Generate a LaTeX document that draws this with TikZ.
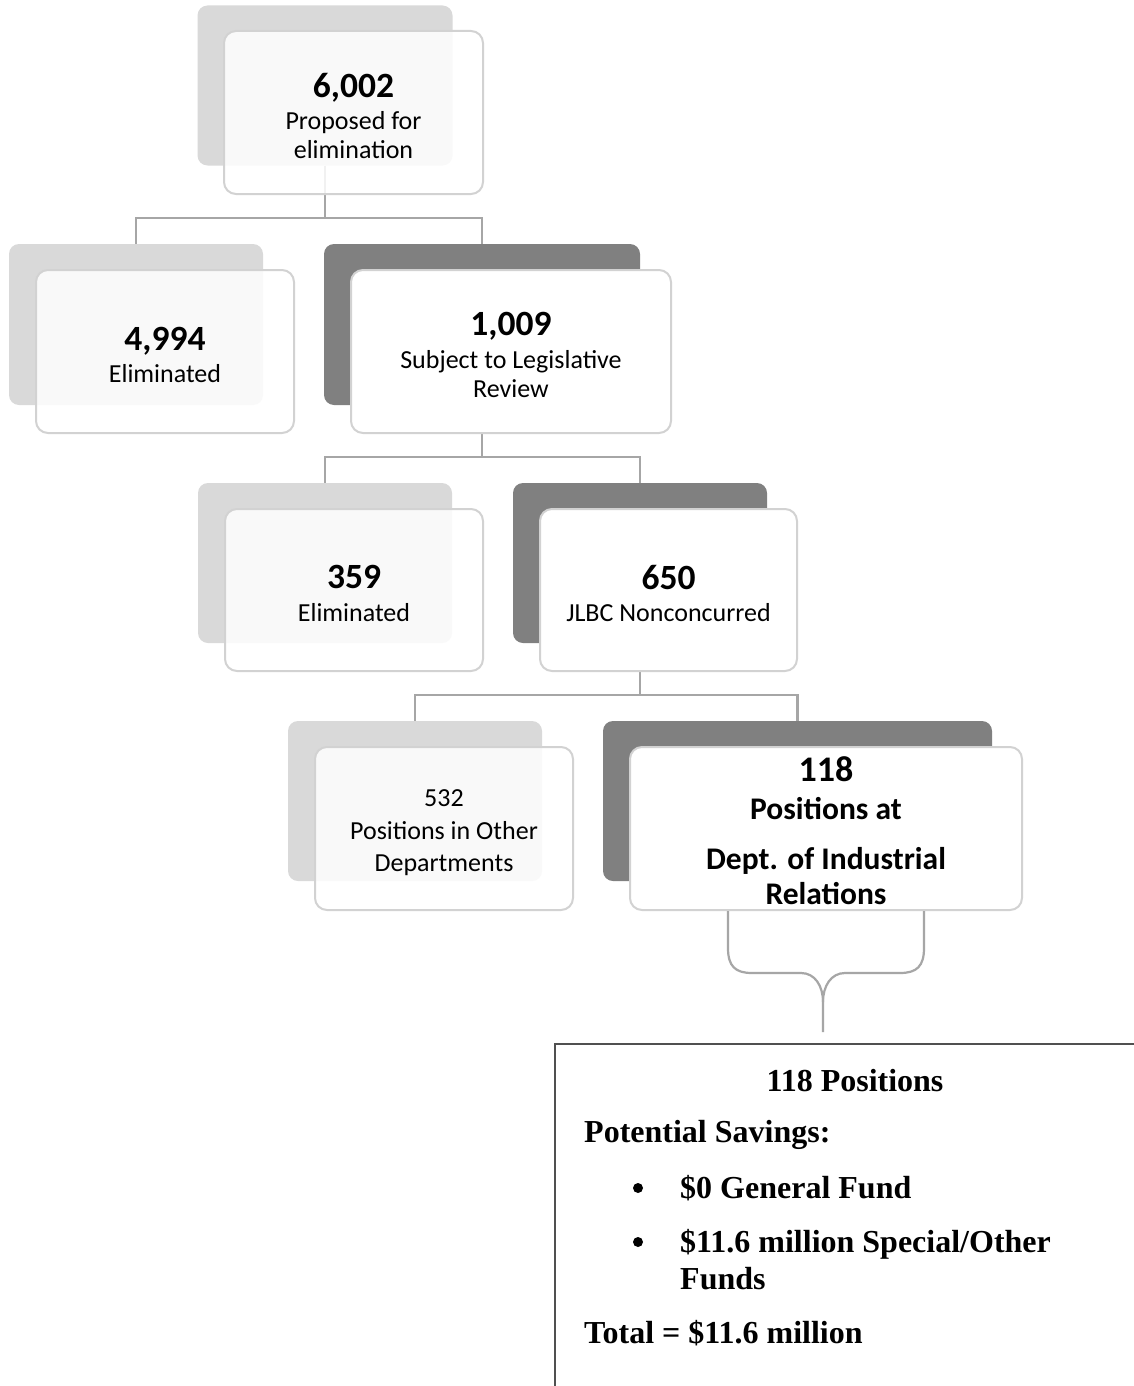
\documentclass[tikz,border=0pt]{standalone}
\usepackage{fontspec}
\setmainfont{Liberation Serif}
\newfontfamily\calfont{Carlito}
\definecolor{lightback}{HTML}{D9D9D9}
\definecolor{darkback}{HTML}{808080}
\definecolor{frontline}{HTML}{D2D2D2}
\definecolor{connline}{HTML}{A6A6A6}
\definecolor{savline}{HTML}{505050}
\newcommand{\bnum}{\calfont\bfseries\fontsize{35.5}{40}\selectfont}
\begin{document}
\begin{tikzpicture}[x=1pt,y=-1pt,
  backL/.style={fill=lightback, rounded corners=10pt, inner sep=0pt},
  backD/.style={fill=darkback, rounded corners=10pt, inner sep=0pt},
  frontL/.style={draw=frontline, line width=2pt, fill=white, fill opacity=0.85, rounded corners=12pt, inner sep=0pt},
  frontD/.style={draw=frontline, line width=2pt, fill=white, rounded corners=12pt, inner sep=0pt},
  boxtext/.style={inner sep=0pt, align=center, font=\calfont\fontsize{26}{29}\selectfont},
  conn/.style={draw=connline, line width=2.4pt},
  savbox/.style={draw=savline, line width=1.5pt, inner sep=0pt},
  savtext/.style={font=\bfseries\fontsize{32}{36}\selectfont, inner sep=0pt},
  dot/.style={circle, fill=black, inner sep=0pt, minimum size=10pt}
]
\clip (0,0) rectangle (1134,1386);
\fill[white] (0,0) rectangle (1134,1386);

% back boxes
\node[backL, minimum width=255pt, minimum height=160pt] (bT) at (325,85.5) {};
\node[backL, minimum width=254pt, minimum height=161pt] (bA) at (136,324.5) {};
\node[backD, minimum width=316pt, minimum height=161pt] (bB) at (482,324.5) {};
\node[backL, minimum width=254pt, minimum height=160pt] (bC) at (325,563) {};
\node[backD, minimum width=254pt, minimum height=160pt] (bD) at (640,563) {};
\node[backL, minimum width=254pt, minimum height=160pt] (bE) at (415,801) {};
\node[backD, minimum width=389pt, minimum height=160pt] (bF) at (797.5,801) {};

% connectors
\coordinate (j1) at (325,218);
\coordinate (j2) at (482,457);
\coordinate (j3) at (640,695);
\draw[conn] (bT.south) -- (j1);
\draw[conn] (j1) -| (bA.north);
\draw[conn] (j1) -| (bB.north);
\draw[conn] (bB.south) -- (j2);
\draw[conn] (j2) -| (bC.north);
\draw[conn] (j2) -| (bD.north);
\draw[conn] (bD.south) -- (j3);
\draw[conn] (j3) -| (bE.north);
\draw[conn] (j3) -| (bF.north);

% front boxes
\node[frontL, minimum width=259pt, minimum height=163pt] (fT) at (353.5,112.5) {};
\node[frontL, minimum width=258pt, minimum height=163pt] (fA) at (165,351.5) {};
\node[frontD, minimum width=320pt, minimum height=163pt] (fB) at (511,351.5) {};
\node[frontL, minimum width=258pt, minimum height=162pt] (fC) at (354,590) {};
\node[frontD, minimum width=257pt, minimum height=162pt] (fD) at (668.5,590) {};
\node[frontL, minimum width=258pt, minimum height=163pt] (fE) at (444,828.5) {};
\node[frontD, minimum width=392pt, minimum height=163pt] (fF) at (826,828.5) {};

% box texts
\node[boxtext] (tT) at ([yshift=-3.5pt]fT.center) {{\bnum 6,002}\\[3.5pt]Proposed for\\elimination};
\node[boxtext] (tA) at ([yshift=-3.5pt]fA.center) {{\bnum 4,994}\\[3.5pt]Eliminated};
\node[boxtext] (tB) at ([yshift=-3.5pt]fB.center) {{\bnum 1,009}\\[3.5pt]Subject to Legislative\\Review};
\node[boxtext] (tC) at ([yshift=-3.5pt]fC.center) {{\bnum 359}\\[3.5pt]Eliminated};
\node[boxtext] (tD) at ([yshift=-3.5pt]fD.center) {{\bnum 650}\\[3.5pt]JLBC Nonconcurred};
\node[boxtext, font=\calfont\fontsize{26}{32}\selectfont] (tE) at ([yshift=-4pt]fE.center) {532\\[1pt]Positions in Other\\Departments};
\node[boxtext, font=\calfont\bfseries\fontsize{31.5}{35}\selectfont] (tF) at ([yshift=-2pt]fF.center)
  {{\fontsize{36}{40}\selectfont 118}\\[3pt]Positions at\\[15pt]Dept. of Industrial\\Relations};

% brace
\coordinate (brL) at (728,911);
\coordinate (brR) at (924,911);
\coordinate (brT) at (823,1032);
\draw[conn, line width=2.2pt, line join=round]
  (brL) -- (728,948) .. controls (728,966) and (735,973) .. (752,973) -- (801,973)
  .. controls (815,973) and (823,986) .. (823,1002) -- (brT);
\draw[conn, line width=2.2pt, line join=round]
  (brR) -- (924,948) .. controls (924,966) and (917,973) .. (900,973) -- (845,973)
  .. controls (831,973) and (823,986) .. (823,1002);

% savings box
\node[savbox, anchor=north west, minimum width=620pt, minimum height=400pt] (sav) at (554,1043) {};
\node[savtext, anchor=base] (s1) at (855,1091) {118 Positions};
\node[savtext, anchor=base west] (s2) at (584,1142) {Potential Savings:};
\node[dot] (d1) at (638,1188) {};
\node[savtext, anchor=base west] (s3) at (680,1198) {\$0 General Fund};
\node[dot] (d2) at (638,1242) {};
\node[savtext, anchor=base west] (s4) at (680,1252) {\$11.6 million Special/Other};
\node[savtext, anchor=base west] (s5) at (680,1289) {Funds};
\node[savtext, anchor=base west] (s6) at (584,1343) {Total = \$11.6 million};
\end{tikzpicture}
\end{document}
